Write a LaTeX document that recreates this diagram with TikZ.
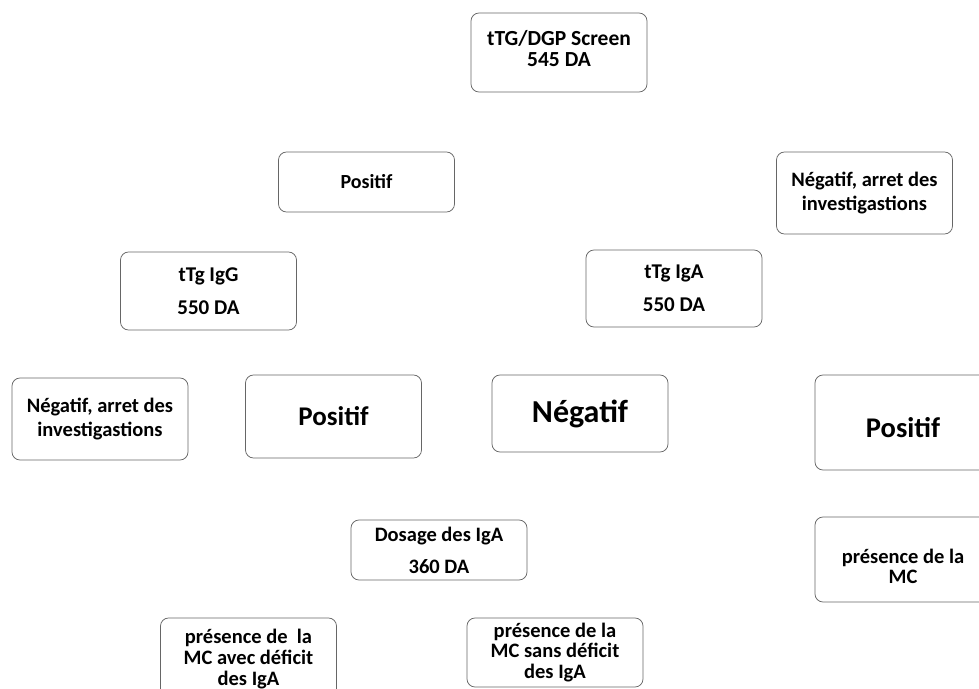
\documentclass[tikz,border=0pt]{standalone}
\usepackage{fontspec}
\setmainfont{Carlito}
\tikzset{
  box/.style={draw=black!60, line width=0.75pt, rounded corners=8pt, fill=white,
    inner sep=0pt, align=center, minimum width=176pt},
  txt/.style={inner sep=0pt, align=center},
  fs/.style 2 args={font={\fontsize{#1}{#2}\selectfont\bfseries}}
}
\begin{document}
\begin{tikzpicture}[x=1pt,y=-1pt]
\useasboundingbox (0,0) rectangle (979,688);
% top of the tree
\node[box, minimum height=79pt] (screen) at (559,52.5) {};
\node[txt, fs={21.5}{20.5}] (screenT) at ([yshift=4pt]screen.center) {tTG/DGP Screen\\545 DA};
% second level
\node[box, minimum height=60pt, fs={20}{24}] (pos1) at (366.5,182) {Positif};
\node[box, minimum height=82pt, fs={20.5}{24}] (neg1) at (864.5,193) {Négatif, arret des\\investigastions};
% third level
\node[box, minimum height=78pt, fs={21}{33}] (igg) at (208.5,291) {tTg IgG\\550 DA};
\node[box, minimum height=77pt, fs={21}{33}] (iga) at (674,288.5) {tTg IgA\\550 DA};
% fourth level
\node[box, minimum height=82pt, fs={20.5}{24}] (neg2) at (100,419) {Négatif, arret des\\investigastions};
\node[box, minimum height=83pt, fs={27}{30}] (pos2) at (333.5,416.5) {Positif};
\node[box, minimum height=77pt, fs={32}{34}] (neg3) at (580,413.5) {Négatif};
\node[box, minimum height=95pt] (pos3) at (903,422.5) {};
\node[txt, fs={28.5}{30}] (pos3T) at ([yshift=-5pt]pos3.center) {Positif};
% fifth level
\node[box, minimum height=60pt, fs={20.5}{32}] (dosage) at (439,550) {Dosage des IgA\\360 DA};
\node[box, minimum height=85pt] (mc) at (903,559.5) {};
\node[txt, fs={20.5}{20}] (mcT) at ([yshift=-7pt]mc.center) {présence de la\\MC};
% bottom level
\node[box, minimum height=82pt, fs={20.5}{21}] (avec) at (248.5,659) {présence de~~la\\MC avec déficit\\des IgA};
\node[box, minimum height=69pt, fs={20.5}{20.5}] (sans) at (555,652.5) {présence de la\\MC sans déficit\\des IgA};
\end{tikzpicture}
\end{document}
